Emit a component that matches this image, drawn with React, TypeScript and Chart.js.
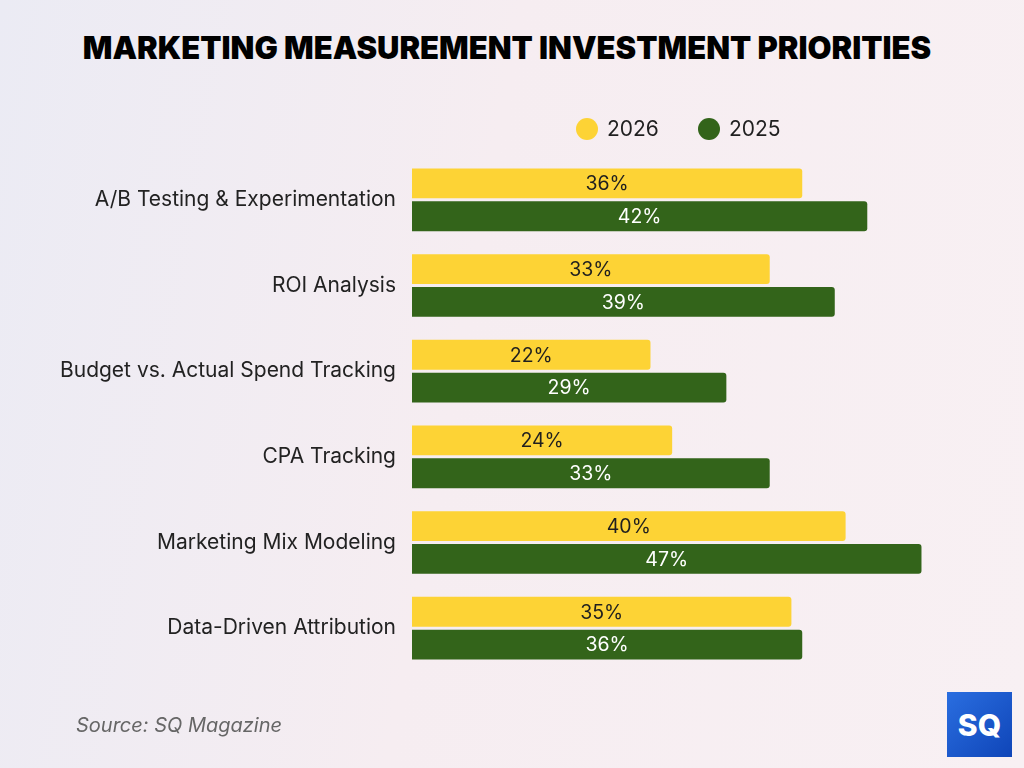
import React, { useEffect, useRef } from "react";
import { Chart, registerables } from "chart.js";

Chart.register(...registerables);

const categories = [
  "A/B Testing & Experimentation",
  "ROI Analysis",
  "Budget vs. Actual Spend Tracking",
  "CPA Tracking",
  "Marketing Mix Modeling",
  "Data-Driven Attribution",
];
const values2026 = [36, 33, 22, 24, 40, 35];
const values2025 = [42, 39, 29, 33, 47, 36];
const seriesLabels = ["2026", "2025"];
const colors = ["#FDD335", "#33641A"];
const labelColors = ["#1f1f1f", "#ffffff"];

const FONT = "Inter, 'Noto Sans', sans-serif";

const barLabelPlugin = {
  id: "barLabels",
  afterDatasetsDraw(chart: any) {
    const ctx = chart.ctx;
    ctx.save();
    ctx.font = `400 19.5px ${FONT}`;
    ctx.textAlign = "center";
    ctx.textBaseline = "middle";
    chart.data.datasets.forEach((ds: any, di: number) => {
      const meta = chart.getDatasetMeta(di);
      meta.data.forEach((bar: any, i: number) => {
        const x = (bar.x + bar.base) / 2;
        ctx.fillStyle = labelColors[di];
        ctx.fillText(ds.data[i] + "%", x, bar.y + 1);
      });
    });
    ctx.restore();
  },
};

const legendPlugin = {
  id: "customLegend",
  afterDraw(chart: any) {
    const ctx = chart.ctx;
    ctx.save();
    ctx.font = `400 21px ${FONT}`;
    ctx.textBaseline = "middle";
    const y = 129;
    const xs = [587, 709];
    chart.data.datasets.forEach((ds: any, di: number) => {
      ctx.fillStyle = ds.backgroundColor;
      ctx.beginPath();
      ctx.arc(xs[di], y, 11, 0, Math.PI * 2);
      ctx.fill();
      ctx.fillStyle = "#1f1f1f";
      ctx.textAlign = "left";
      ctx.fillText(ds.label, xs[di] + 20, y + 1);
    });
    ctx.restore();
  },
};

export default function App() {
  const ref = useRef<HTMLCanvasElement>(null);
  useEffect(() => {
    document.body.style.margin = "0";
    const chart = new Chart(ref.current!, {
      type: "bar",
      data: {
        labels: categories,
        datasets: [
          {
            label: seriesLabels[0],
            data: values2026,
            backgroundColor: colors[0],
            borderRadius: 3,
            borderSkipped: "start",
            categoryPercentage: 0.767,
            barPercentage: 0.91,
          },
          {
            label: seriesLabels[1],
            data: values2025,
            backgroundColor: colors[1],
            borderRadius: 3,
            borderSkipped: "start",
            categoryPercentage: 0.767,
            barPercentage: 0.91,
          },
        ],
      },
      options: {
        indexAxis: "y",
        animation: false,
        responsive: false,
        maintainAspectRatio: false,
        layout: { padding: { top: 157, bottom: 97, left: 0, right: 70 } },
        plugins: {
          legend: { display: false },
          tooltip: { enabled: false },
          title: { display: false },
        },
        scales: {
          x: { display: false, min: 0, max: 50 },
          y: {
            grid: { display: false },
            border: { display: false },
            ticks: {
              color: "#222222",
              font: { family: FONT, size: 21, weight: "400" },
              padding: 8,
            },
            afterFit(scale: any) {
              scale.width = 412;
            },
          },
        },
      },
      plugins: [barLabelPlugin, legendPlugin],
    });
    return () => chart.destroy();
  }, []);

  return (
    <div
      style={{
        position: "fixed",
        left: 0,
        top: 0,
        width: 1024,
        height: 768,
        overflow: "hidden",
        background:
          "linear-gradient(100deg, #ebebf4 0%, #f6edf1 45%, #f8f0f3 100%)",
      }}
    >
      <div
        style={{
          position: "absolute",
          top: 29,
          left: 0,
          width: 1014,
          textAlign: "center",
          fontFamily: FONT,
          fontWeight: 900,
          fontSize: 31,
          color: "#000",
          letterSpacing: 0,
        }}
      >
        MARKETING MEASUREMENT INVESTMENT PRIORITIES
      </div>
      <canvas
        ref={ref}
        width={1024}
        height={768}
        style={{ position: "absolute", left: 0, top: 0 }}
      />
      <div
        style={{
          position: "absolute",
          left: 76,
          top: 713,
          fontFamily: FONT,
          fontStyle: "italic",
          fontSize: 20,
          color: "#666",
        }}
      >
        Source: SQ Magazine
      </div>
      <div
        style={{
          position: "absolute",
          left: 947,
          top: 692,
          width: 65,
          height: 65,
          background: "linear-gradient(135deg, #2a6ee0 0%, #0f45b8 100%)",
          color: "#fff",
          fontFamily: FONT,
          fontWeight: 800,
          fontSize: 30,
          display: "flex",
          alignItems: "center",
          justifyContent: "center",
          letterSpacing: 0,
        }}
      >
        SQ
      </div>
    </div>
  );
}
